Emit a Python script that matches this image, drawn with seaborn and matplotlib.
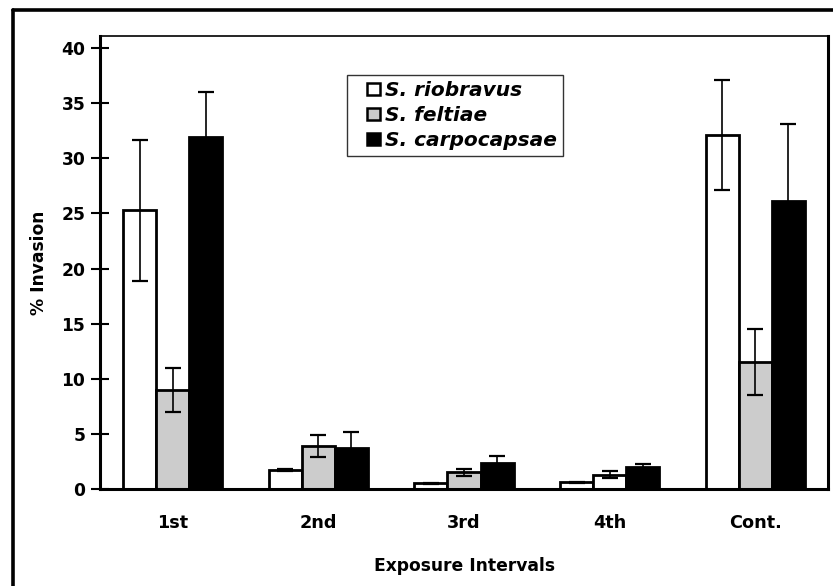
import matplotlib
matplotlib.use("Agg")
import matplotlib.pyplot as plt
import seaborn as sns
import pandas as pd
import numpy as np
from matplotlib.lines import Line2D
from matplotlib.patches import Rectangle
from matplotlib.legend_handler import HandlerPatch

# ---- data ----
intervals = ["1st", "2nd", "3rd", "4th", "Cont."]
species = ["S. riobravus", "S. feltiae", "S. carpocapsae"]
riobravus = [25.3, 1.7, 0.5, 0.6, 32.1]
feltiae = [9.0, 3.9, 1.5, 1.3, 11.5]
carpocapsae = [31.9, 3.7, 2.4, 2.0, 26.1]
riobravus_err = [6.4, 0.1, 0.05, 0.05, 5.0]
feltiae_err = [2.0, 1.0, 0.3, 0.3, 3.0]
carpocapsae_err = [4.1, 1.5, 0.6, 0.3, 7.0]
yticks = [0, 5, 10, 15, 20, 25, 30, 35, 40]

values = [riobravus, feltiae, carpocapsae]
errors = [riobravus_err, feltiae_err, carpocapsae_err]
rows = []
for sp, vals in zip(species, values):
    for iv, v in zip(intervals, vals):
        rows.append({"Interval": iv, "Species": sp, "Invasion": v})
df = pd.DataFrame(rows)

sns.set_theme(style="white")
plt.rcParams["font.family"] = ["DejaVu Sans"]
plt.rcParams["font.weight"] = "bold"
for k in ["text.color", "axes.labelcolor", "xtick.color", "ytick.color"]:
    plt.rcParams[k] = "black"

fig = plt.figure(figsize=(8.33, 5.86), dpi=100)
ax = fig.add_axes([100 / 833, 1 - 489 / 586, 728 / 833, 453 / 586])

palette = {"S. riobravus": "white", "S. feltiae": "#cccccc", "S. carpocapsae": "black"}
sns.barplot(data=df, x="Interval", y="Invasion", hue="Species", order=intervals,
            hue_order=species, palette=palette, width=0.68, errorbar=None,
            edgecolor="black", linewidth=2.0, saturation=1, legend=False, ax=ax)

for cont, errs in zip(ax.containers, errors):
    for patch, e in zip(cont.patches, errs):
        xc = patch.get_x() + patch.get_width() / 2
        ax.errorbar(xc, patch.get_height(), yerr=e, fmt="none", ecolor="black",
                    elinewidth=1.2, capsize=5.5, capthick=1.6, zorder=5)

# 4th interval middle bar appears white in the reference
ax.containers[1].patches[3].set_facecolor("white")

fs = 12.3
ax.set_ylim(0, 41.1)
ax.set_xlim(-0.5, 4.5)
ax.set_yticks(yticks)
ax.set_yticklabels([str(t) for t in yticks], fontsize=fs, fontweight="bold", color="black")
ax.set_xticks(range(len(intervals)))
ax.set_xticklabels(intervals, fontsize=fs + 0.4, fontweight="bold", color="black")
ax.set_xticks([0.5, 1.5, 2.5, 3.5], minor=True)
ax.tick_params(axis="x", which="major", length=0, pad=18)
ax.tick_params(axis="x", which="minor", direction="inout", length=12, width=1.5, color="black")
ax.tick_params(axis="y", which="major", direction="inout", length=13, width=1.5,
               color="black", pad=4, left=True)
ax.set_xlabel("Exposure Intervals", fontsize=fs, fontweight="bold", labelpad=18, color="black")
ax.set_ylabel("% Invasion", fontsize=fs, fontweight="bold", labelpad=10, color="black")

for side in ["left", "bottom", "right"]:
    ax.spines[side].set_visible(True)
    ax.spines[side].set_color("black")
    ax.spines[side].set_linewidth(2.2)
ax.spines["top"].set_visible(True)
ax.spines["top"].set_color("black")
ax.spines["top"].set_linewidth(1.2)


def square_right(legend, orig_handle, xdescent, ydescent, width, height, fontsize):
    s = height
    return Rectangle((-xdescent + width - s, -ydescent), s, s)


handles = [Rectangle((0, 0), 1, 1, facecolor=palette[s], edgecolor="black", linewidth=1.8)
           for s in species]
leg = ax.legend(handles, species, loc="upper left",
                bbox_to_anchor=(347 / 833, 1 - 75 / 586), bbox_transform=fig.transFigure,
                borderaxespad=0, frameon=True, fancybox=False, shadow=False,
                handlelength=1.34, handleheight=0.6, handletextpad=0.25,
                labelspacing=0.3, borderpad=0.3,
                handler_map={Rectangle: HandlerPatch(patch_func=square_right)},
                prop={"family": "DejaVu Sans", "weight": "bold", "style": "italic", "size": 14.5})
leg.get_frame().set_edgecolor("black")
leg.get_frame().set_linewidth(1.0)
for t in leg.get_texts():
    t.set_color("black")

# outer frame (left and top edges visible)
fig.add_artist(Line2D([13 / 833, 13 / 833], [0, 1 - 10 / 586], transform=fig.transFigure,
                      color="black", linewidth=2.6))
fig.add_artist(Line2D([13 / 833, 1], [1 - 10 / 586, 1 - 10 / 586], transform=fig.transFigure,
                      color="black", linewidth=2.6))

fig.savefig("out.png", dpi=100, facecolor="white")
